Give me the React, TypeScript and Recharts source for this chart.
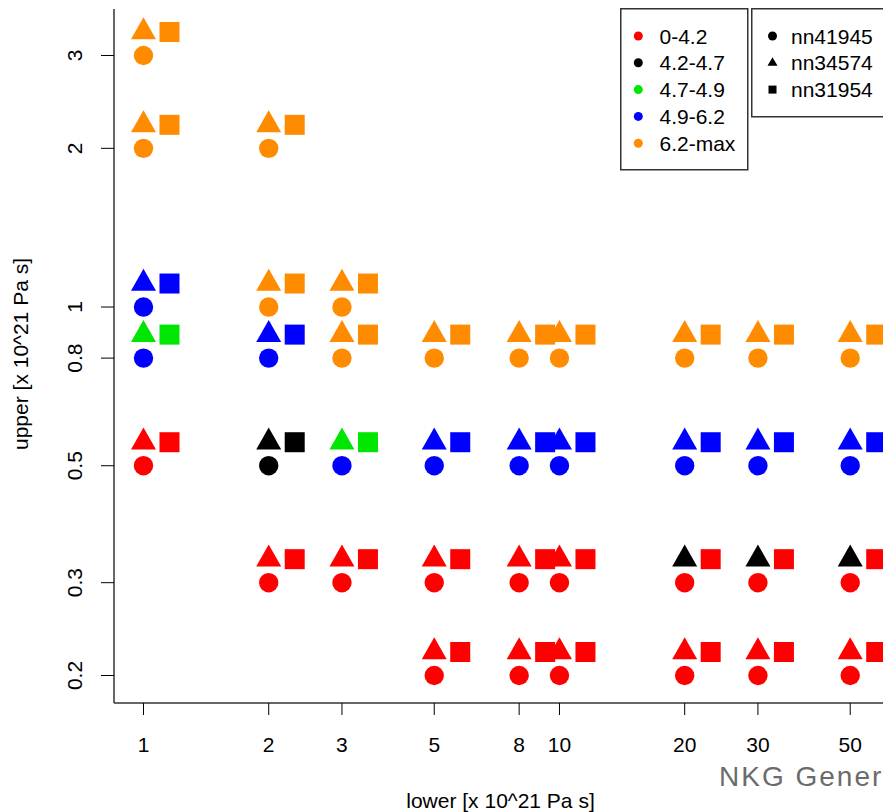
import { ScatterChart, Scatter, XAxis, YAxis, Legend, Label } from "recharts";

// grid of (lower, upper) viscosity combinations, one entry per tested model
const lowerVals = [
  1, 1, 1, 1, 1,
  2, 2, 2, 2, 2,
  3, 3, 3, 3,
  5, 5, 5, 5,
  8, 8, 8, 8,
  10, 10, 10, 10,
  20, 20, 20, 20,
  30, 30, 30, 30,
  50, 50, 50, 50,
];
const upperVals = [
  3, 2, 1, 0.8, 0.5,
  2, 1, 0.8, 0.5, 0.3,
  1, 0.8, 0.5, 0.3,
  0.8, 0.5, 0.3, 0.2,
  0.8, 0.5, 0.3, 0.2,
  0.8, 0.5, 0.3, 0.2,
  0.8, 0.5, 0.3, 0.2,
  0.8, 0.5, 0.3, 0.2,
  0.8, 0.5, 0.3, 0.2,
];

// misfit class per point (index into bins) for each ice model
const nn41945Bin = [
  4, 4, 3, 3, 0,
  4, 4, 3, 1, 0,
  4, 4, 3, 0,
  4, 3, 0, 0,
  4, 3, 0, 0,
  4, 3, 0, 0,
  4, 3, 0, 0,
  4, 3, 0, 0,
  4, 3, 0, 0,
];
const nn34574Bin = [
  4, 4, 3, 2, 0,
  4, 4, 3, 1, 0,
  4, 4, 2, 0,
  4, 3, 0, 0,
  4, 3, 0, 0,
  4, 3, 0, 0,
  4, 3, 1, 0,
  4, 3, 1, 0,
  4, 3, 1, 0,
];
const nn31954Bin = [
  4, 4, 3, 2, 0,
  4, 4, 3, 1, 0,
  4, 4, 2, 0,
  4, 3, 0, 0,
  4, 3, 0, 0,
  4, 3, 0, 0,
  4, 3, 0, 0,
  4, 3, 0, 0,
  4, 3, 0, 0,
];

const bins = ["0-4.2", "4.2-4.7", "4.7-4.9", "4.9-6.2", "6.2-max"];
const binColors = ["#ff0000", "#000000", "#00e600", "#0000ff", "#ff8c00"];
const models = ["nn41945", "nn34574", "nn31954"];

const xTicks = [1, 2, 3, 5, 8, 10, 20, 30, 50];
const yTicks = [0.2, 0.3, 0.5, 0.8, 1, 2, 3];

const FONT = "'Liberation Sans', Arial, sans-serif";
const AXIS_COL = "#333";

const build = (binIdx: number[]) =>
  lowerVals.map((lower, i) => ({
    lower,
    upper: upperVals[i],
    color: binColors[binIdx[i]],
  }));

const circleData = build(nn41945Bin);
const triangleData = build(nn34574Bin);
const squareData = build(nn31954Bin);

// R-style symbols: triangle sits just above the point, square above-right
const DX = 26;
const DY = -23.5;

const CircleShape = (p: any) => (
  <circle cx={p.cx} cy={p.cy} r={9.7} fill={p.payload.color} />
);

const TriangleShape = (p: any) => {
  const cx = p.cx;
  const cy = p.cy + DY;
  const w = 25;
  const h = 22;
  const pts = `${cx},${cy - (2 * h) / 3} ${cx - w / 2},${cy + h / 3} ${cx + w / 2},${cy + h / 3}`;
  return <polygon points={pts} fill={p.payload.color} />;
};

const SquareShape = (p: any) => {
  const s = 20;
  return (
    <rect
      x={p.cx + DX - s / 2}
      y={p.cy + DY - s / 2}
      width={s}
      height={s}
      fill={p.payload.color}
    />
  );
};

const YTick = (props: any) => {
  const { x, y, payload } = props;
  return (
    <text
      x={x}
      y={y}
      transform={`rotate(-90 ${x} ${y})`}
      textAnchor="middle"
      fontSize={21}
      fontFamily={FONT}
      fill="#000"
    >
      {payload.value}
    </text>
  );
};

const XTitle = (props: any) => {
  const vb = props.viewBox || { x: 114, y: 703, width: 769, height: 109 };
  return (
    <text
      x={vb.x + vb.width / 2 + 2}
      y={vb.y + vb.height - 4.5}
      textAnchor="middle"
      fontSize={21}
      fontFamily={FONT}
      fill="#000"
    >
      lower [x 10^21 Pa s]
    </text>
  );
};

const YTitle = (props: any) => {
  const vb = props.viewBox || { x: 0, y: 9, width: 114, height: 694 };
  const x = vb.x + 28;
  const y = vb.y + vb.height / 2 - 2;
  return (
    <text
      x={x}
      y={y}
      transform={`rotate(-90 ${x} ${y})`}
      textAnchor="middle"
      fontSize={21}
      fontFamily={FONT}
      fill="#000"
    >
      upper [x 10^21 Pa s]
    </text>
  );
};

const ROW0 = 28;
const ROW_STEP = 26.8;

const LegendBoxes = () => (
  <svg width={300} height={175} style={{ display: "block", overflow: "visible" }}>
    <rect x={0.75} y={0.75} width={127} height={161} fill="#fff" stroke={AXIS_COL} strokeWidth={1.5} />
    {bins.map((b, i) => (
      <g key={b}>
        <circle cx={18.3} cy={ROW0 + i * ROW_STEP} r={4.5} fill={binColors[i]} />
        <text x={39.5} y={ROW0 + i * ROW_STEP + 7.5} fontSize={21} fontFamily={FONT} fill="#000">
          {b}
        </text>
      </g>
    ))}
    <rect x={131.75} y={0.75} width={170} height={108} fill="#fff" stroke={AXIS_COL} strokeWidth={1.5} />
    {models.map((m, i) => {
      const cx = 152.5;
      const cy = ROW0 + i * ROW_STEP;
      let marker;
      if (i === 0) marker = <circle cx={cx} cy={cy} r={4.5} fill="#000" />;
      else if (i === 1)
        marker = <polygon points={`${cx},${cy - 5.5} ${cx - 5},${cy + 3} ${cx + 5},${cy + 3}`} fill="#000" />;
      else marker = <rect x={cx - 4} y={cy - 4} width={8} height={8} fill="#000" />;
      return (
        <g key={m}>
          {marker}
          <text x={171} y={cy + 7.5} fontSize={21} fontFamily={FONT} fill="#000">
            {m}
          </text>
        </g>
      );
    })}
  </svg>
);

export default function App() {
  return (
    <div
      style={{
        position: "absolute",
        left: 0,
        top: 0,
        width: 883,
        height: 812,
        overflow: "hidden",
        background: "#fff",
      }}
    >
      <ScatterChart width={883} height={812} margin={{ top: 9, right: 0, bottom: 0, left: 0 }}>
        <XAxis
          xAxisId="top"
          orientation="top"
          type="number"
          dataKey="lower"
          scale="log"
          domain={[0.8494, 59.95]}
          allowDataOverflow
          height={0}
          tick={false}
          tickLine={false}
          axisLine={{ stroke: AXIS_COL, strokeWidth: 1.5 }}
        />
        <XAxis
          type="number"
          dataKey="lower"
          scale="log"
          domain={[0.8494, 59.95]}
          allowDataOverflow
          ticks={xTicks}
          interval={0}
          height={109}
          tickSize={12}
          tickMargin={22}
          tick={{ fill: "#000", fontSize: 21, fontFamily: FONT }}
          tickLine={{ stroke: "#000" }}
          axisLine={{ stroke: AXIS_COL, strokeWidth: 1.5 }}
        >
          <Label content={XTitle} />
        </XAxis>
        <YAxis
          type="number"
          dataKey="upper"
          scale="log"
          domain={[0.17737, 3.6755]}
          allowDataOverflow
          ticks={yTicks}
          interval={0}
          width={114}
          tickSize={13}
          tickMargin={19}
          tick={<YTick />}
          tickLine={{ stroke: "#000" }}
          axisLine={{ stroke: AXIS_COL, strokeWidth: 1.5 }}
        >
          <Label content={YTitle} />
        </YAxis>
        <Scatter name="nn41945" data={circleData} shape={CircleShape} isAnimationActive={false} />
        <Scatter name="nn34574" data={triangleData} shape={TriangleShape} isAnimationActive={false} />
        <Scatter name="nn31954" data={squareData} shape={SquareShape} isAnimationActive={false} />
        <Legend
          layout="vertical"
          align="center"
          verticalAlign="middle"
          wrapperStyle={{ left: 620.25, top: 8.25, width: 310, height: 175 }}
          content={LegendBoxes}
        />
      </ScatterChart>
      <div
        style={{
          position: "absolute",
          left: 719,
          top: 761,
          fontSize: 28,
          fontFamily: FONT,
          color: "#6b6b6b",
          letterSpacing: 2,
          whiteSpace: "nowrap",
        }}
      >
        NKG Gener
      </div>
    </div>
  );
}
